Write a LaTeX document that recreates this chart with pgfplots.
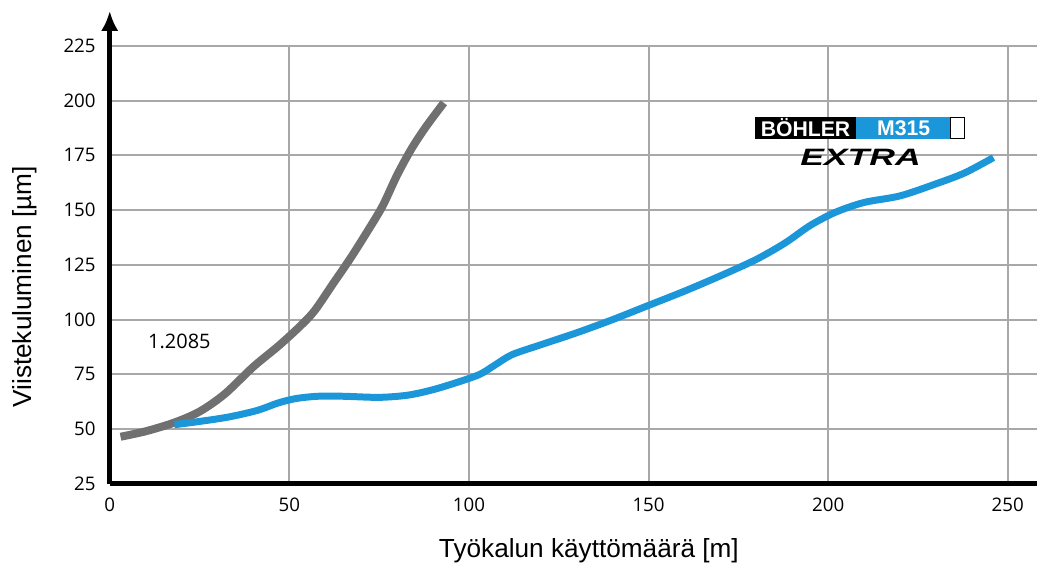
\documentclass[border=0pt]{standalone}
\usepackage{pgfplots}
\pgfplotsset{compat=1.18}
\usepackage{fontspec}
\setmainfont{Liberation Sans}
\newfontfamily\tickfont{Open Sans}
\usetikzlibrary{arrows.meta}
\definecolor{wgray}{HTML}{707070}
\definecolor{wblue}{HTML}{1A96D9}
\definecolor{gridc}{HTML}{A8A8A8}

\begin{document}
\begin{tikzpicture}
\begin{axis}[
    scale only axis,
    width=371.6pt, height=175.6pt,
    xmin=0, xmax=258, ymin=25, ymax=225,
    xtick={0,50,...,250},
    ytick={25,50,...,225},
    axis lines=left,
    axis line style={line width=2pt},
    x axis line style={-},
    y axis line style={-{Latex[length=8pt,width=7pt]}, shorten >=-14pt},
    grid=major,
    grid style={gridc, line width=0.8pt},
    tick style={draw=none},
    ticklabel style={font=\tickfont\fontsize{7.5}{9}\selectfont},
    /pgf/number format/assume math mode=true,
    xlabel={Työkalun käyttömäärä [m]},
    ylabel={Viistekuluminen [µm]},
    label style={font=\fontsize{10.5}{12}\selectfont},
    xlabel style={at={(axis description cs:0.517,-0.153)}, anchor=center},
    ylabel style={at={(axis description cs:-0.0915,0.45)}, anchor=center},
    clip=false,
]
\addplot[wgray, line width=3.2pt, smooth] coordinates {
(3,46.5)(10,49)(18,53)(25,58)(32,66)(40,78.5)(47,88)(53,97)(57,104)(62,116)
(67,128)(72,141)(76,152)(80,166)(84,178)(88,188)(93,199)
};
\addplot[wblue, line width=2.8pt, smooth] coordinates {
(18,52)(25,53.5)(33,55.5)(41,58.5)(47,62)(52,64)(58,65)(65,65)(75,64.5)(83,65.5)
(90,68)(97,71.5)(103,75)(107,79)(112,84)(120,88.5)(130,94)(140,100)(150,106.5)
(160,113)(170,120)(180,127.5)(188,135)(195,143)(202,149)(210,153.5)(220,156.5)
(230,162)(238,167)(246,174)
};
\node[font=\tickfont\fontsize{8}{9}\selectfont] at (axis cs:19.4,90) {1.2085};
% logo
\fill[black] (axis cs:179.7,182.5) rectangle (axis cs:207.8,192.5);
\fill[wblue] (axis cs:207.8,182.5) rectangle (axis cs:234,192.5);
\draw[black, fill=white, line width=0.4pt] (axis cs:234,182.7) rectangle (axis cs:238,192.3);
\node[white, font=\bfseries\fontsize{8.5}{9}\selectfont] at (axis cs:193.7,187.5) {BÖHLER};
\node[white, font=\bfseries\fontsize{8.5}{9}\selectfont] at (axis cs:221,187.5) {M315};
\node[black, font=\bfseries\itshape\fontsize{9.5}{10}\selectfont, xscale=1.5] at (axis cs:209,174.3) {EXTRA};
\end{axis}
\path ([yshift=18.4pt]current axis.north east);
\path ([xshift=-44pt]current axis.south west);
\end{tikzpicture}
\end{document}
